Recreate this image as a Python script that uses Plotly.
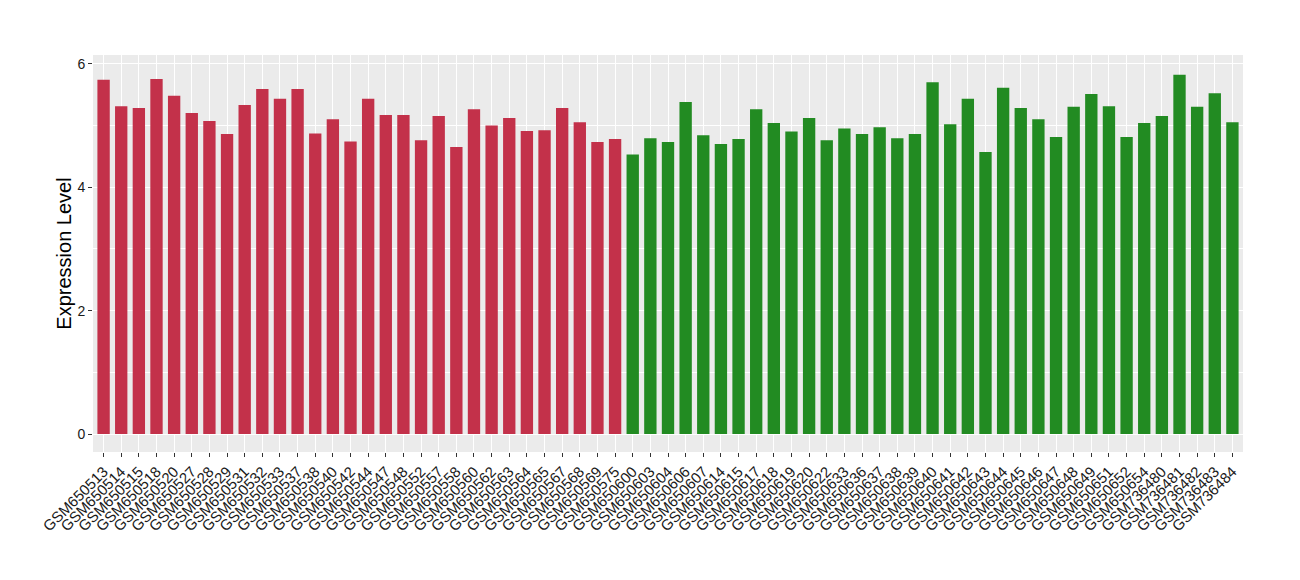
import plotly.graph_objects as go

red_samples = ["GSM650513", "GSM650514", "GSM650515", "GSM650518", "GSM650520", "GSM650527",
               "GSM650528", "GSM650529", "GSM650531", "GSM650532", "GSM650533", "GSM650537",
               "GSM650538", "GSM650540", "GSM650542", "GSM650544", "GSM650547", "GSM650548",
               "GSM650552", "GSM650557", "GSM650558", "GSM650560", "GSM650562", "GSM650563",
               "GSM650564", "GSM650565", "GSM650567", "GSM650568", "GSM650569", "GSM650575"]
red_values = [5.74, 5.31, 5.28, 5.75, 5.48, 5.20, 5.07, 4.86, 5.33, 5.59, 5.43, 5.59,
              4.87, 5.10, 4.74, 5.43, 5.17, 5.17, 4.76, 5.15, 4.65, 5.26, 5.00, 5.12,
              4.91, 4.92, 5.28, 5.05, 4.73, 4.78]

green_samples = ["GSM650600", "GSM650603", "GSM650604", "GSM650606", "GSM650607", "GSM650614",
                 "GSM650615", "GSM650617", "GSM650618", "GSM650619", "GSM650620", "GSM650622",
                 "GSM650633", "GSM650636", "GSM650637", "GSM650638", "GSM650639", "GSM650640",
                 "GSM650641", "GSM650642", "GSM650643", "GSM650644", "GSM650645", "GSM650646",
                 "GSM650647", "GSM650648", "GSM650649", "GSM650651", "GSM650652", "GSM650654",
                 "GSM736480", "GSM736481", "GSM736482", "GSM736483", "GSM736484"]
green_values = [4.53, 4.79, 4.73, 5.38, 4.84, 4.70, 4.78, 5.26, 5.04, 4.90, 5.12, 4.76,
                4.95, 4.86, 4.97, 4.79, 4.86, 5.70, 5.02, 5.43, 4.57, 5.61, 5.28, 5.10,
                4.81, 5.30, 5.51, 5.31, 4.81, 5.04, 5.15, 5.82, 5.30, 5.52, 5.05]

y_ticks = [0, 2, 4, 6]

RED = "#c3314a"
GREEN = "#228b22"

categories = red_samples + green_samples

fig = go.Figure()
fig.add_trace(go.Bar(x=red_samples, y=red_values, marker=dict(color=RED, line=dict(width=0)),
                     showlegend=False))
fig.add_trace(go.Bar(x=green_samples, y=green_values, marker=dict(color=GREEN, line=dict(width=0)),
                     showlegend=False))

fig.update_layout(
    width=1300, height=580,
    margin=dict(l=85, r=65, t=47, b=136),
    paper_bgcolor="white",
    plot_bgcolor="#ebebeb",
    bargap=0.3,
    font=dict(family="Liberation Sans, Arial, sans-serif", color="#1a1a1a"),
    xaxis=dict(
        type="category",
        categoryorder="array", categoryarray=categories,
        tickmode="array", tickvals=categories, ticktext=categories,
        range=[-0.6, len(categories) - 0.4],
        tickangle=-45,
        tickfont=dict(size=15, color="#1a1a1a"),
        showgrid=True, gridcolor="white", gridwidth=1.3,
        ticks="outside", ticklen=4, tickcolor="#333333", tickwidth=1,
        showline=False, zeroline=False, automargin=False,
    ),
    yaxis=dict(
        range=[-0.29, 6.14],
        tickvals=y_ticks,
        ticktext=[str(v) for v in y_ticks],
        tickfont=dict(size=14, color="#1a1a1a"),
        title=dict(text="Expression Level", font=dict(size=20, color="#000000"), standoff=0),
        showgrid=True, gridcolor="white", gridwidth=1.3,
        minor=dict(tickvals=[1, 3, 5], showgrid=True, gridcolor="white", gridwidth=0.6, ticks=""),
        ticks="outside", ticklen=4, tickcolor="#333333", tickwidth=1,
        showline=False, zeroline=False, automargin=False,
    ),
)

fig.write_html("out.html")
